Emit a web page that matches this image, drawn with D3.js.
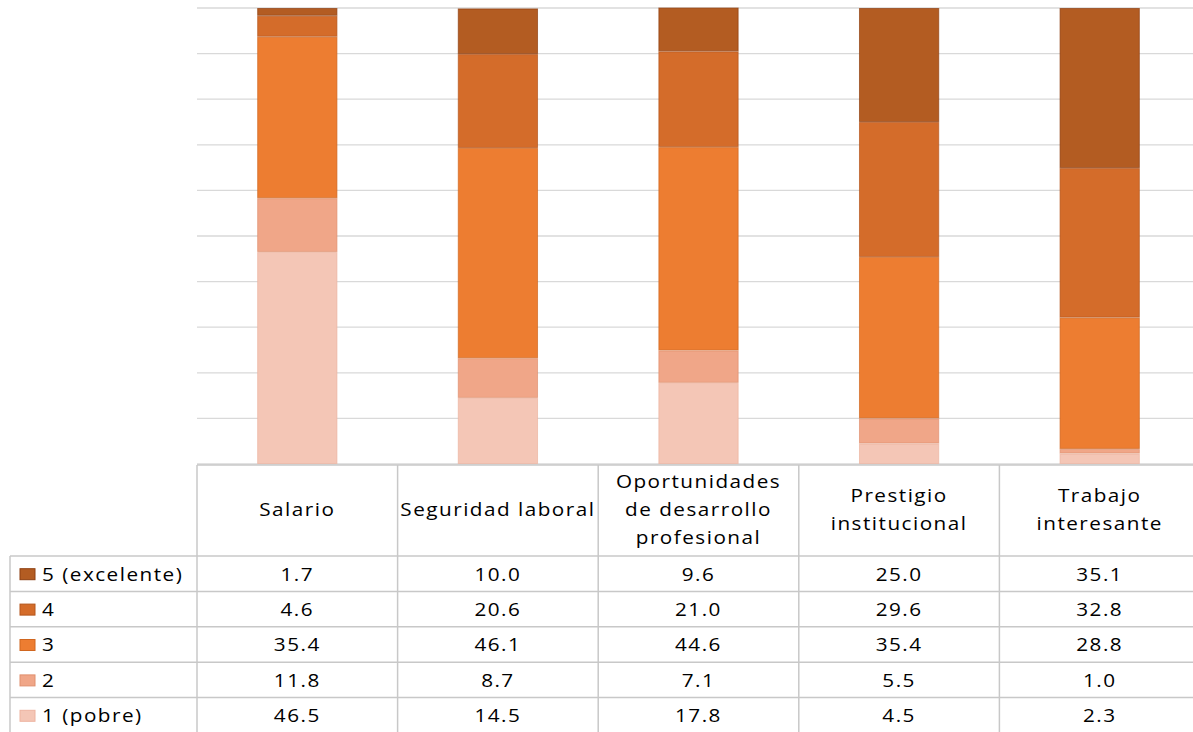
<!DOCTYPE html>
<html><head><meta charset="utf-8">
<script src="https://cdn.jsdelivr.net/npm/d3@7"></script>
<style>body{margin:0;background:#fff;} svg{display:block;}</style>
</head><body>
<svg id="c" width="1193" height="732"></svg>
<script>
const categories = ["Salario","Seguridad laboral","Oportunidades de desarrollo profesional","Prestigio institucional","Trabajo interesante"];
const categoryLines = [["Salario"],["Seguridad laboral"],["Oportunidades","de desarrollo","profesional"],["Prestigio","institucional"],["Trabajo","interesante"]];
const seriesNames = ["5 (excelente)","4","3","2","1 (pobre)"];
const s5 = [1.7,10.0,9.6,25.0,35.1];
const s4 = [4.6,20.6,21.0,29.6,32.8];
const s3 = [35.4,46.1,44.6,35.4,28.8];
const s2 = [11.8,8.7,7.1,5.5,1.0];
const s1 = [46.5,14.5,17.8,4.5,2.3];
const yTicks = [0,10,20,30,40,50,60,70,80,90,100];

(function(){
const seriesValues = [s5,s4,s3,s2,s1];
const fills = ["#B35C22","#D46C2A","#ED7D31","#F0A688","#F4C6B6"];
const strokes = ["#8E3F10","#B5561C","#D0661F","#E0906F","#EDB3A0"];

const svg = d3.select("#c");
const W = 1193;
const pLeft = 197, pRight = 1200, pTop = 8, pBottom = 464;
const x = d3.scaleBand().domain(categories).range([pLeft, pRight]).paddingInner(0.6).paddingOuter(0.3);
const y = d3.scaleLinear().domain([0,100]).range([pBottom, pTop]);

svg.append("g").selectAll("line").data(yTicks).join("line")
  .attr("x1", pLeft).attr("x2", W).attr("y1", d=>y(d)).attr("y2", d=>y(d))
  .attr("stroke", "#D9D9D9").attr("stroke-width", 1.3);

const rows = categories.map((c,i)=>{ const o={cat:c}; seriesNames.forEach((s,j)=>o[s]=seriesValues[j][i]); return o; });
const order = seriesNames.slice().reverse();
const stack = d3.stack().keys(order)(rows);
const g = svg.append("g");
stack.forEach(layer=>{
  const j = seriesNames.indexOf(layer.key);
  g.append("g").selectAll("rect").data(layer).join("rect")
    .attr("x", d=>x(d.data.cat)+0.5)
    .attr("width", x.bandwidth()-1)
    .attr("y", d=>y(d[1])+0.5)
    .attr("height", d=>Math.max(0, y(d[0])-y(d[1])-1))
    .attr("fill", fills[j])
    .attr("stroke", strokes[j]).attr("stroke-width", 1).attr("stroke-opacity", 0.7);
});

const font = "'Open Sans', sans-serif";
const sx = 1.15, ls = 1.3;
const colX = categories.map(c => x(c) - x.step()*x.paddingInner()/2);
const headerTop = 465, headerBottom = 556, rowH = 35.4;
const tb = svg.append("g").attr("font-family", font).attr("font-size", 18).attr("fill", "#000");
const lineColor = "#C8C8C8";
function txt(px, py, t, anchor){
  return tb.append("text").attr("transform", `translate(${px},${py}) scale(${sx},1)`)
    .attr("text-anchor", anchor).attr("dominant-baseline","central")
    .attr("letter-spacing", ls).text(t);
}
tb.append("line").attr("x1", pLeft).attr("x2", W).attr("y1", headerTop).attr("y2", headerTop).attr("stroke", lineColor).attr("stroke-width",1.5);
for (let r=0; r<=seriesNames.length; r++) {
  const yy = headerBottom + r*rowH;
  tb.append("line").attr("x1", 10).attr("x2", W).attr("y1", yy).attr("y2", yy).attr("stroke", lineColor).attr("stroke-width",1.5);
}
colX.forEach(cx=>{
  tb.append("line").attr("x1", cx).attr("x2", cx).attr("y1", headerTop).attr("y2", 732).attr("stroke", lineColor).attr("stroke-width",1.5);
});
tb.append("line").attr("x1", 10).attr("x2", 10).attr("y1", headerBottom).attr("y2", 732).attr("stroke", lineColor).attr("stroke-width",1.5);

categories.forEach((c,i)=>{
  const lines = categoryLines[i];
  const cx = x(c) + x.bandwidth()/2;
  const mid = (headerTop+headerBottom)/2 - 1;
  const lh = 28;
  lines.forEach((t,k)=>{
    txt(cx, mid + (k-(lines.length-1)/2)*lh, t, "middle");
  });
});
seriesNames.forEach((s,r)=>{
  const cy = headerBottom + r*rowH + rowH/2;
  tb.append("rect").attr("x", 20).attr("y", cy-5).attr("width", 15).attr("height", 11)
    .attr("fill", fills[r]).attr("stroke", strokes[r]).attr("stroke-width",1);
  txt(42, cy, s, "start");
  categories.forEach((c,i)=>{
    txt(x(c)+x.bandwidth()/2, cy, d3.format(".1f")(seriesValues[r][i]), "middle");
  });
});
})();
</script>
</body></html>
